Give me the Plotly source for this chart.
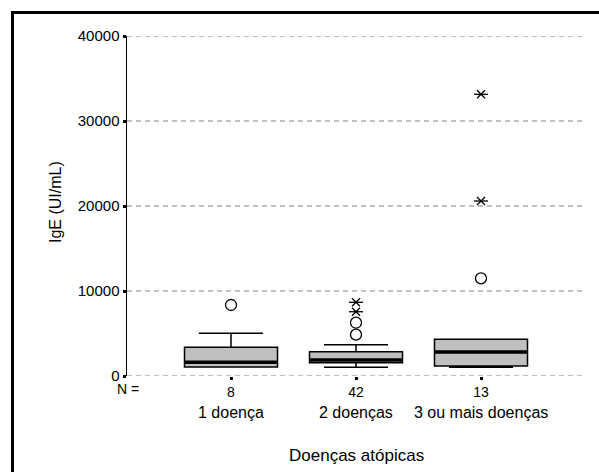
import plotly.graph_objects as go

# ---- data ----
categories = ["1 doença", "2 doenças", "3 ou mais doenças"]
n_values = ["8", "42", "13"]
q1 = [1060, 1565, 1176]
median = [1610, 1880, 2820]
q3 = [3380, 2860, 4310]
lower_whisker = [1060, 1020, 1020]
upper_whisker = [5020, 3680, 4310]
circle_outliers = [[8350], [4860, 6270], [11490]]
star_outliers = [[], [7560, 8670], [20590, 33140]]
y_ticks = [0, 10000, 20000, 30000, 40000]

FONT = "Liberation Sans, Arial, sans-serif"
BOX_W = 0.744

fig = go.Figure()
xpos = list(range(len(categories)))

for i in xpos:
    fig.add_trace(go.Box(
        x=[i], q1=[q1[i]], median=[median[i]], q3=[q3[i]],
        lowerfence=[lower_whisker[i]], upperfence=[upper_whisker[i]],
        width=BOX_W, whiskerwidth=0.69,
        fillcolor="#c0c0c0", line=dict(color="black", width=1.5),
        boxpoints=False, hoverinfo="skip", showlegend=False,
    ))
    fig.add_trace(go.Scatter(
        x=[i - BOX_W / 2, i + BOX_W / 2], y=[median[i], median[i]],
        mode="lines", line=dict(color="black", width=3.5),
        showlegend=False, hoverinfo="skip",
    ))
    if circle_outliers[i]:
        fig.add_trace(go.Scatter(
            x=[i] * len(circle_outliers[i]), y=circle_outliers[i], mode="markers",
            marker=dict(symbol="circle-open", size=11, color="black", line=dict(width=1.3)),
            showlegend=False, hoverinfo="skip",
        ))
    if star_outliers[i]:
        for sym, sz in (("x-thin-open", 8), ("line-ew-open", 10)):
            fig.add_trace(go.Scatter(
                x=[i] * len(star_outliers[i]), y=star_outliers[i], mode="markers",
                marker=dict(symbol=sym, size=sz, color="black", line=dict(width=1.3, color="black")),
                showlegend=False, hoverinfo="skip",
            ))

# page is rendered with no body margin (see post_script below)
W, H = 599, 472
# target pixel positions of the plot area in the screenshot
PL, PR, PT, PB = 127, 586, 36, 376
L, R, T, B = PL, W - PR, PT, H - PB
pw, ph = PR - PL, PB - PT

def px_x(p):
    return (p - PL) / pw

def px_y(p):
    return (PB - p) / ph

annotations = []
for i, c in enumerate(categories):
    annotations.append(dict(x=i, xref="x", y=px_y(412), yref="paper", text=c,
                            showarrow=False, xanchor="center", yanchor="middle",
                            font=dict(family=FONT, size=16, color="black")))
annotations.append(dict(x=px_x(128), xref="paper", y=px_y(389), yref="paper", text="N =",
                        showarrow=False, xanchor="center", yanchor="middle",
                        font=dict(family=FONT, size=14, color="black")))
annotations.append(dict(x=0.5, xref="paper", y=px_y(455), yref="paper",
                        text="Doenças atópicas", showarrow=False, xanchor="center",
                        yanchor="middle", font=dict(family=FONT, size=17, color="black")))
annotations.append(dict(x=px_x(55), xref="paper", y=px_y(202), yref="paper",
                        text="IgE (UI/mL)", textangle=-90, showarrow=False,
                        xanchor="center", yanchor="middle",
                        font=dict(family=FONT, size=16, color="black")))

shapes = [dict(type="line", xref="paper", x0=0, x1=1, yref="y", y0=v, y1=v,
               line=dict(color="#808080", width=1, dash="5px,4px"), layer="below")
          for v in y_ticks]
# outer frame: only top and left edges are visible in the reference
shapes.append(dict(type="line", xref="paper", yref="paper",
                   x0=px_x(11), x1=px_x(W), y0=px_y(12.5), y1=px_y(12.5),
                   line=dict(color="black", width=3), layer="above"))
shapes.append(dict(type="line", xref="paper", yref="paper",
                   x0=px_x(12.5), x1=px_x(12.5), y0=px_y(11), y1=px_y(H),
                   line=dict(color="black", width=3), layer="above"))

fig.update_layout(
    width=W, height=H,
    margin=dict(l=L, r=R, t=T, b=B, pad=0),
    paper_bgcolor="white", plot_bgcolor="white",
    font=dict(family=FONT, size=15, color="black"),
    hovermode=False, dragmode=False,
    xaxis=dict(
        range=[-0.832, 2.84], tickmode="array", tickvals=xpos, ticktext=n_values,
        showgrid=False, zeroline=False, showline=False, fixedrange=True,
        ticks="outside", ticklen=3, tickwidth=3, tickcolor="black",
        tickfont=dict(family=FONT, size=14, color="black"),
    ),
    yaxis=dict(
        range=[0, 40000], tickmode="array", tickvals=y_ticks,
        ticktext=[str(v) for v in y_ticks], fixedrange=True,
        showgrid=False, zeroline=False, showline=True, linecolor="black", linewidth=1.5,
        ticks="outside", ticklen=3, tickwidth=3, tickcolor="black",
        tickfont=dict(family=FONT, size=15, color="black"),
    ),
    annotations=annotations,
    shapes=shapes,
)

fig.write_html(
    "out.html",
    config={"staticPlot": True, "displayModeBar": False},
    post_script=(
        "document.documentElement.style.overflow='hidden';"
        "document.body.style.margin='0';document.body.style.overflow='hidden';"
    ),
)
